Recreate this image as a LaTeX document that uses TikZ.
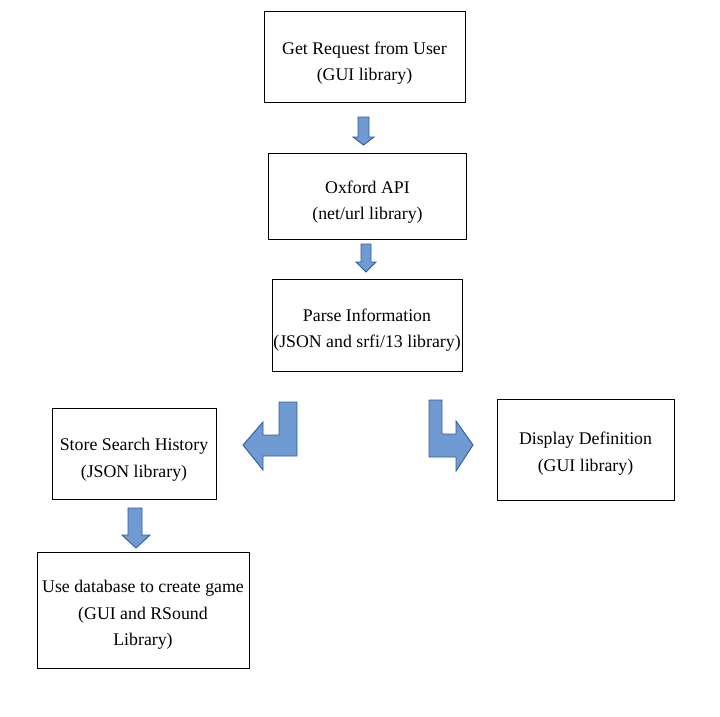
\documentclass[tikz,border=0pt]{standalone}
\usepackage{fontspec}
\setmainfont{Liberation Serif}
\definecolor{arrfill}{RGB}{112,155,210}
\definecolor{arrdraw}{RGB}{47,91,160}
\tikzset{
  box/.style={draw=black, line width=1pt, fill=white, inner sep=0pt},
  boxtext/.style={align=center, inner sep=0pt, font=\fontsize{17.8}{26.5}\selectfont},
  blockarrow/.style={fill=arrfill, draw=arrdraw, line width=0.9pt, line join=miter},
}
\begin{document}
\begin{tikzpicture}[x=1pt,y=-1pt]
\useasboundingbox (0,0) rectangle (720,717);
\node[box, minimum width=201pt, minimum height=90pt] (req) at (364.5,57) {};
\node[boxtext, yshift=-6pt] (reqt) at (req.center) {Get Request from User\\(GUI library)};
\node[box, minimum width=198pt, minimum height=86pt] (api) at (367.5,196) {};
\node[boxtext, yshift=-6pt] (apit) at (api.center) {Oxford API\\(net/url library)};
\node[box, minimum width=190pt, minimum height=92pt] (parse) at (367,325) {};
\node[boxtext, yshift=-5pt] (parset) at (parse.center) {Parse Information\\(JSON and srfi/13 library)};
\node[box, minimum width=164pt, minimum height=91pt] (store) at (134,453.5) {};
\node[boxtext, yshift=-6pt] (storet) at (store.center) {Store Search History\\(JSON library)};
\node[box, minimum width=177pt, minimum height=101pt] (disp) at (585.5,449.5) {};
\node[boxtext, yshift=-4pt] (dispt) at (disp.center) {Display Definition\\(GUI library)};
\node[box, minimum width=212pt, minimum height=116pt] (game) at (143,610) {};
\node[boxtext, yshift=-5pt] (gamet) at (game.center) {Use database to create game\\(GUI and RSound\\Library)};
% down arrows
\draw[blockarrow] (358,117) -- (369,117) -- (369,137) -- (374,137) -- (363.5,145) -- (353,137) -- (358,137) -- cycle;
\draw[blockarrow] (361,244) -- (371,244) -- (371,262) -- (376,262) -- (366,272) -- (356,262) -- (361,262) -- cycle;
\draw[blockarrow] (128,508) -- (142,508) -- (142,535) -- (150,535) -- (136,548) -- (122,535) -- (128,535) -- cycle;
% bent arrows
\draw[blockarrow] (297,402) -- (297,456) -- (263,456) -- (263,470) -- (243,445) -- (263,422) -- (263,435) -- (279,435) -- (279,402) -- cycle;
\draw[blockarrow] (429,400) -- (442,400) -- (442,434) -- (456,434) -- (456,421) -- (473,445) -- (456,471) -- (456,457) -- (429,457) -- cycle;
\end{tikzpicture}
\end{document}
